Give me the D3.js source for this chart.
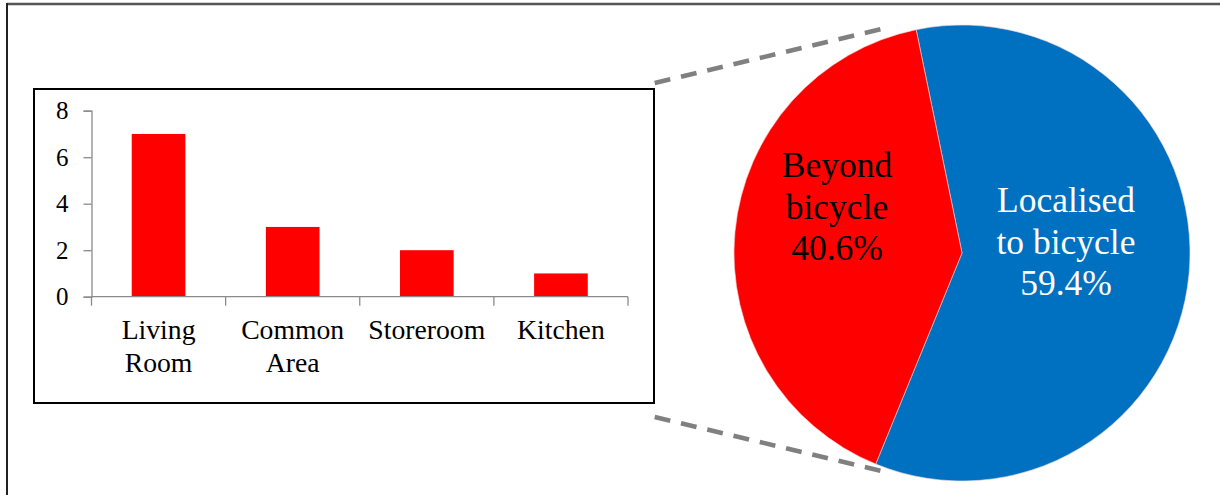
<!DOCTYPE html>
<html>
<head>
<meta charset="utf-8">
<script src="https://cdn.jsdelivr.net/npm/d3@7/dist/d3.min.js"></script>
<style>
  html, body { margin: 0; padding: 0; background: #fff; }
  svg { display: block; }
  svg text { font-family: 'Liberation Serif'; }
</style>
</head>
<body>
<svg id="chart" width="1220" height="495"></svg>
<script>
// ---- Data ----
const categories = ["Living Room", "Common Area", "Storeroom", "Kitchen"];
const categoryLines = [["Living", "Room"], ["Common", "Area"], ["Storeroom"], ["Kitchen"]];
const counts = [7, 3, 2, 1];
const yTicks = [0, 2, 4, 6, 8];

const pieLabels = [["Localised", "to bicycle", "59.4%"], ["Beyond", "bicycle", "40.6%"]];
const pieValues = [59.4, 40.6];
const pieColors = ["#0070C0", "#FF0000"];
const pieTextColors = ["#FFFFFF", "#000000"];

const FONT = "'Liberation Serif'";

// ---- Layout ----
const svg = d3.select("#chart");

// outer frame (top + left edges only)
svg.append("line").attr("x1", 7).attr("y1", 4).attr("x2", 1220).attr("y2", 4)
  .attr("stroke", "#555").attr("stroke-width", 2.5);
svg.append("line").attr("x1", 7).attr("y1", 3).attr("x2", 7).attr("y2", 495)
  .attr("stroke", "#222").attr("stroke-width", 2);

// bar chart box
svg.append("rect").attr("x", 34).attr("y", 89).attr("width", 620).attr("height", 314)
  .attr("fill", "#fff").attr("stroke", "#000").attr("stroke-width", 2);

const x = d3.scaleBand().domain(categories).range([91.5, 628]).paddingInner(0.6).paddingOuter(0.3);
const y = d3.scaleLinear().domain([0, 8]).range([296.7, 110.7]);

const g = svg.append("g");

// bars
g.selectAll("rect.bar").data(categories).enter().append("rect")
  .attr("class", "bar")
  .attr("x", d => x(d))
  .attr("width", x.bandwidth())
  .attr("y", (d, i) => y(counts[i]))
  .attr("height", (d, i) => y(0) - y(counts[i]))
  .attr("fill", "#FF0000");

// y axis
const yAxis = d3.axisLeft(y).tickValues(yTicks).tickSize(8).tickPadding(15).tickFormat(d3.format("d"));
const yg = g.append("g").attr("transform", `translate(${x.range()[0]},0)`).call(yAxis)
  .attr("font-family", FONT).attr("font-size", 25);
yg.select(".domain").attr("stroke", "#8a8a8a").attr("stroke-width", 1.3);
yg.selectAll(".tick line").attr("stroke", "#8a8a8a").attr("stroke-width", 1.3);
yg.selectAll(".tick text").attr("fill", "#000")
  .attr("font-family", FONT).attr("font-size", 25);

// x axis line
const [x0, x1] = x.range();
g.append("line").attr("x1", x0).attr("x2", x1).attr("y1", y(0)).attr("y2", y(0))
  .attr("stroke", "#8a8a8a").attr("stroke-width", 1.3);
// ticks at category boundaries
const boundaries = d3.range(categories.length + 1).map(i => x0 + i * x.step());
g.selectAll("line.xtick").data(boundaries).enter().append("line")
  .attr("class", "xtick")
  .attr("x1", d => d).attr("x2", d => d)
  .attr("y1", y(0)).attr("y2", y(0) + 9)
  .attr("stroke", "#8a8a8a").attr("stroke-width", 1.3);

// x labels (one text per line)
categories.forEach((d, i) => {
  const cx = x(d) + x.bandwidth() / 2;
  categoryLines[i].forEach((ln, j) => {
    g.append("text")
      .attr("x", cx)
      .attr("y", y(0) + 42.6 + j * 32.4)
      .attr("text-anchor", "middle")
      .attr("font-family", FONT)
      .attr("font-size", 27.7)
      .attr("fill", "#000")
      .text(ln);
  });
});

// dashed connector lines
const dash = [[654.7, 83, 890, 27], [654.7, 417, 890, 473]];
svg.selectAll("line.conn").data(dash).enter().append("line")
  .attr("class", "conn")
  .attr("x1", d => d[0]).attr("y1", d => d[1]).attr("x2", d => d[2]).attr("y2", d => d[3])
  .attr("stroke", "#808080").attr("stroke-width", 4.5).attr("stroke-dasharray", "16,11");

// pie
const cx = 962, cy = 253, r = 228;
const start = -11.6 * Math.PI / 180;
const pie = d3.pie().sort(null).startAngle(start).endAngle(start + 2 * Math.PI);
const arc = d3.arc().innerRadius(0).outerRadius(r);
const pg = svg.append("g").attr("transform", `translate(${cx},${cy})`);
pg.selectAll("path").data(pie(pieValues)).enter().append("path")
  .attr("d", arc)
  .attr("fill", (d, i) => pieColors[i])
  .attr("stroke", "#f4d8d8").attr("stroke-width", 0.6);

// pie labels (one text per line)
const labelPos = [[1066, 212], [837, 177]];
pieLabels.forEach((lines, i) => {
  lines.forEach((ln, j) => {
    svg.append("text")
      .attr("x", labelPos[i][0])
      .attr("y", labelPos[i][1] + j * 41.5)
      .attr("text-anchor", "middle")
      .attr("font-family", FONT)
      .attr("font-size", 35.5)
      .attr("fill", pieTextColors[i])
      .text(ln);
  });
});
</script>
</body>
</html>
